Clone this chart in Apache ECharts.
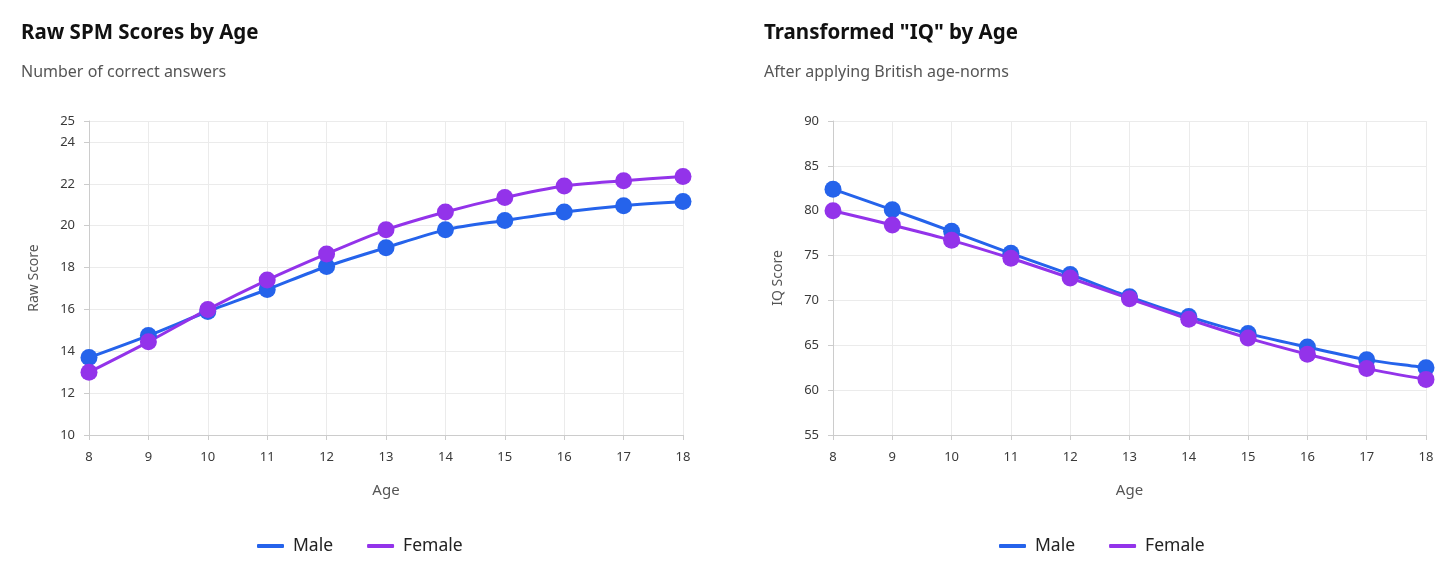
<!DOCTYPE html>
<html>
<head>
<meta charset="utf-8">
<script src="https://cdn.jsdelivr.net/npm/echarts@6/dist/echarts.min.js"></script>
<style>
html,body{margin:0;padding:0;background:#fff;}
#c{width:1456px;height:579px;}
</style>
</head>
<body>
<div id="c"></div>
<script>
const ages = [8, 9, 10, 11, 12, 13, 14, 15, 16, 17, 18];
const rawMale = [13.7, 14.75, 15.9, 16.95, 18.05, 18.95, 19.8, 20.25, 20.65, 20.95, 21.15];
const rawFemale = [13.0, 14.45, 16.0, 17.4, 18.65, 19.8, 20.65, 21.35, 21.9, 22.15, 22.35];
const iqMale = [82.4, 80.1, 77.7, 75.25, 72.9, 70.4, 68.2, 66.3, 64.8, 63.4, 62.5];
const iqFemale = [80.0, 78.4, 76.7, 74.7, 72.5, 70.2, 67.9, 65.8, 64.0, 62.4, 61.2];
const seriesNames = ['Male', 'Female'];

const FONT = '"Noto Sans", "Open Sans", sans-serif';
const BLUE = '#2563eb';
const PURPLE = '#9333ea';

const pairs = (xs, ys) => xs.map((x, i) => [x, ys[i]]);

function xAxis(gi) {
  return {
    type: 'value', gridIndex: gi, min: 8, max: 18, interval: 1,
    name: 'Age', nameLocation: 'middle', nameGap: 48,
    nameTextStyle: {fontFamily: FONT, fontSize: 15, color: '#555'},
    axisLine: {lineStyle: {color: '#ccc'}},
    axisTick: {show: true, length: 5, lineStyle: {color: '#ccc'}},
    axisLabel: {fontFamily: FONT, fontSize: 13, color: '#3a3a3a', margin: 16},
    splitLine: {show: true, lineStyle: {color: '#ebebeb'}}
  };
}
function yAxis(gi, name, min, max, interval) {
  return {
    type: 'value', gridIndex: gi, min: min, max: max, interval: interval,
    name: name, nameLocation: 'middle', nameGap: 48,
    nameTextStyle: {fontFamily: FONT, fontSize: 14, color: '#555'},
    axisLine: {show: true, lineStyle: {color: '#ccc'}},
    axisTick: {show: true, length: 5, lineStyle: {color: '#ccc'}},
    axisLabel: {fontFamily: FONT, fontSize: 13, color: '#3a3a3a', margin: 14},
    splitLine: {show: true, lineStyle: {color: '#ebebeb'}}
  };
}
function line(name, gi, data, color) {
  return {
    name: name, type: 'line', xAxisIndex: gi, yAxisIndex: gi,
    data: data, smooth: 0.3, symbol: 'circle', symbolSize: 17,
    lineStyle: {color: color, width: 3},
    itemStyle: {color: color},
    emphasis: {disabled: true}
  };
}
function legend(left) {
  return {data: seriesNames, left: left, top: 532, itemWidth: 27, itemHeight: 4, itemGap: 34, icon: 'roundRect',
    textStyle: {fontFamily: FONT, fontSize: 17.5, color: '#222', padding: [0, 0, 0, 4]}};
}

const chart = echarts.init(document.getElementById('c'));
chart.setOption({
  animation: false,
  title: [
    {left: 16, top: 18, text: 'Raw SPM Scores by Age', subtext: 'Number of correct answers',
     itemGap: 20,
     textStyle: {fontFamily: FONT, fontSize: 20.5, fontWeight: 'bold', color: '#111'},
     subtextStyle: {fontFamily: FONT, fontSize: 16, color: '#555'}},
    {left: 759, top: 18, text: 'Transformed "IQ" by Age', subtext: 'After applying British age-norms',
     itemGap: 20,
     textStyle: {fontFamily: FONT, fontSize: 20.5, fontWeight: 'bold', color: '#111'},
     subtextStyle: {fontFamily: FONT, fontSize: 16, color: '#555'}}
  ],
  legend: [legend(252), legend(994)],
  grid: [
    {left: 89, right: 773, top: 121, bottom: 144},
    {left: 833, right: 30, top: 121, bottom: 144}
  ],
  xAxis: [xAxis(0), xAxis(1)],
  yAxis: [yAxis(0, 'Raw Score', 10, 25, 2), yAxis(1, 'IQ Score', 55, 90, 5)],
  series: [
    line(seriesNames[0], 0, pairs(ages, rawMale), BLUE),
    line(seriesNames[1], 0, pairs(ages, rawFemale), PURPLE),
    line(seriesNames[0], 1, pairs(ages, iqMale), BLUE),
    line(seriesNames[1], 1, pairs(ages, iqFemale), PURPLE)
  ]
});
</script>
</body>
</html>
